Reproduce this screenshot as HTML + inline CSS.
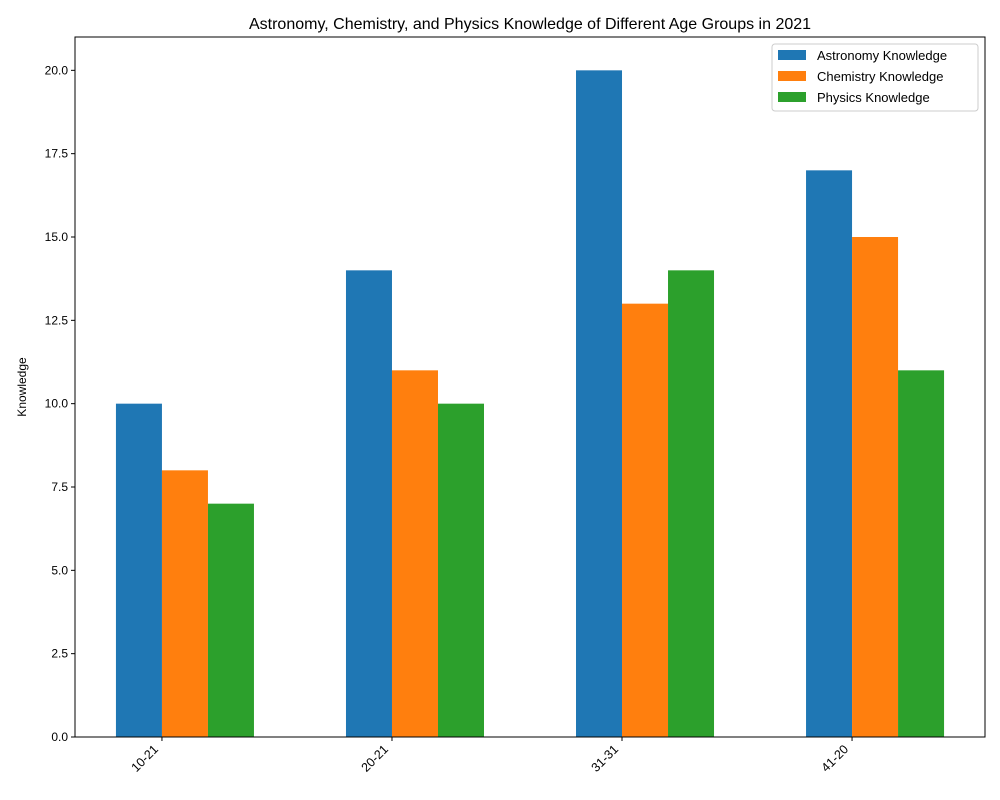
<!DOCTYPE html>
<html><head><meta charset="utf-8"><style>body{margin:0;background:#fff}svg{display:block;font-family:"Liberation Sans","DejaVu Sans",sans-serif}</style></head>
<body>
<svg id="chart" width="1000" height="800"></svg>
<script>
const categories = ["10-21","20-21","31-31","41-20"];
const seriesNames = ["Astronomy Knowledge","Chemistry Knowledge","Physics Knowledge"];
const astronomy = [10,14,20,17];
const chemistry = [8,11,13,15];
const physics = [7,10,14,11];
const yTicks = [0,2.5,5,7.5,10,12.5,15,17.5,20];
const yTickLabels = ["0.0","2.5","5.0","7.5","10.0","12.5","15.0","17.5","20.0"];
const colors = ["#1f77b4","#ff7f0e","#2ca02c"];
const series = [astronomy, chemistry, physics];

const NS = "http://www.w3.org/2000/svg";
const svg = document.getElementById('chart');
const L=75,R=985,T=37,B=737, xmin=-0.378, xmax=3.578, ymax=21;
const xS = v => L + (v - xmin)/(xmax - xmin)*(R-L);
const yS = v => B - v/ymax*(B-T);
function mk(tag, attrs, text){const e=document.createElementNS(NS,tag);for(const k in attrs)e.setAttribute(k,attrs[k]);if(text!==undefined)e.textContent=text;svg.appendChild(e);return e;}

const bw = 0.2;
series.forEach((s,si)=>{
  s.forEach((v,ci)=>{
    const x0 = xS(ci + (si-1)*bw), x1 = xS(ci + si*bw);
    const r = mk('rect',{x:x0,y:yS(v),width:x1-x0,height:yS(0)-yS(v),fill:colors[si]});
    
    
  });
});

const frame = mk('rect',{x:L,y:T,width:R-L,height:B-T,fill:'none',stroke:'#000','stroke-width':1});



yTicks.forEach((t,i)=>{
  const y=yS(t);
  mk('line',{x1:L-4,x2:L,y1:y,y2:y,stroke:'#000'});
  const tx = mk('text',{x:L-7,y:y+4,'text-anchor':'end','font-size':12}, yTickLabels[i]);
  
  
});
categories.forEach((c,i)=>{
  const x=xS(i);
  mk('line',{x1:x,x2:x,y1:B,y2:B+4,stroke:'#000'});
  const ax=x-3, ay=B+13;
  const tx = mk('text',{x:ax,y:ay,'text-anchor':'end','font-size':12.5,transform:`rotate(-45 ${ax} ${ay})`}, c);
  
  
});

const yt = mk('text',{x:26,y:(T+B)/2,'text-anchor':'middle','font-size':12,transform:`rotate(-90 26 ${(T+B)/2})`},'Knowledge');


const title = mk('text',{x:(L+R)/2,y:29,'text-anchor':'middle','font-size':16},'Astronomy, Chemistry, and Physics Knowledge of Different Age Groups in 2021');



const lg = mk('rect',{x:772,y:44,width:206,height:67,fill:'#fff',stroke:'#ccc',rx:3});


seriesNames.forEach((n,i)=>{
  const y=50+i*21;
  const sw = mk('rect',{x:778,y:y,width:28,height:10,fill:colors[i]});
  
  
  const t = mk('text',{x:817,y:y+10,'font-size':13},n);
  
  
});
</script>
</body></html>
